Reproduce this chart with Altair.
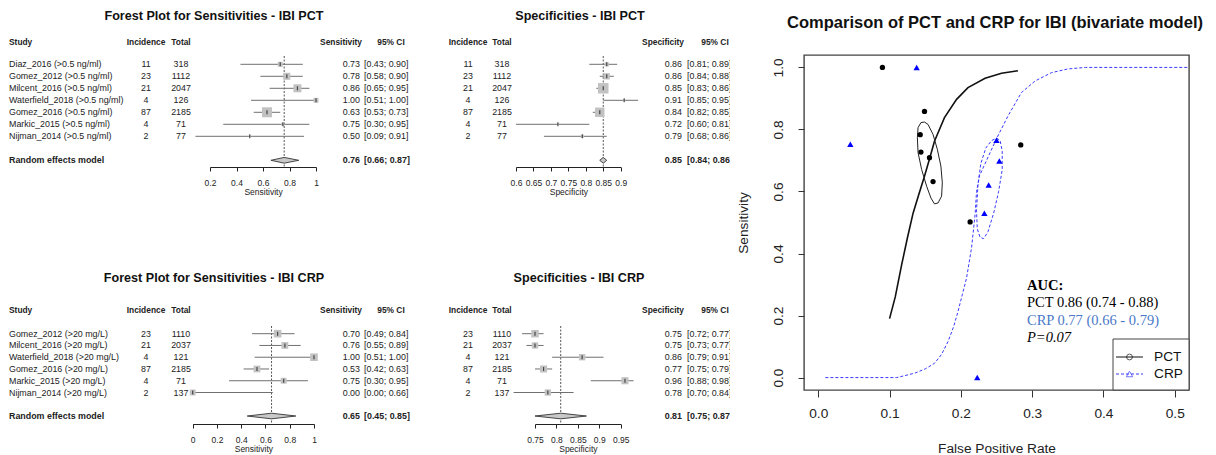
import altair as alt
import pandas as pd

FONT = "Liberation Sans"
SERIF = "Liberation Serif"

# ---------------- Forest plot data: PCT ----------------
pct_studies = ["Diaz_2016 (>0.5 ng/ml)", "Gomez_2012 (>0.5 ng/ml)", "Milcent_2016 (>0.5 ng/ml)",
               "Waterfield_2018 (>0.5 ng/ml)", "Gomez_2016 (>0.5 ng/ml)", "Markic_2015 (>0.5 ng/ml)",
               "Nijman_2014 (>0.5 ng/ml)"]
pct_incidence = [11, 23, 21, 4, 87, 4, 2]
pct_total = [318, 1112, 2047, 126, 2185, 71, 77]
pct_sens = [0.73, 0.78, 0.86, 1.00, 0.63, 0.75, 0.50]
pct_sens_lo = [0.43, 0.58, 0.65, 0.51, 0.53, 0.30, 0.09]
pct_sens_hi = [0.90, 0.90, 0.95, 1.00, 0.73, 0.95, 0.91]
pct_sens_weight = [9.1, 17.8, 23.2, 9.1, 36.2, 3.3, 1.4]
pct_sens_random = [0.76, 0.66, 0.87]
pct_spec = [0.86, 0.86, 0.85, 0.91, 0.84, 0.72, 0.79]
pct_spec_lo = [0.81, 0.84, 0.83, 0.85, 0.82, 0.60, 0.68]
pct_spec_hi = [0.89, 0.88, 0.86, 0.95, 0.85, 0.81, 0.86]
pct_spec_weight = [6.4, 14.4, 40.0, 1.6, 32.4, 1.6, 3.6]
pct_spec_random = [0.85, 0.84, 0.86]

# ---------------- Forest plot data: CRP ----------------
crp_studies = ["Gomez_2012 (>20 mg/L)", "Milcent_2016 (>20 mg/L)", "Waterfield_2018 (>20 mg/L)",
               "Gomez_2016 (>20 mg/L)", "Markic_2015 (>20 mg/L)", "Nijman_2014 (>20 mg/L)"]
crp_incidence = [23, 21, 4, 87, 4, 2]
crp_total = [1110, 2037, 121, 2185, 71, 137]
crp_sens = [0.70, 0.76, 1.00, 0.53, 0.75, 0.00]
crp_sens_lo = [0.49, 0.55, 0.51, 0.42, 0.30, 0.00]
crp_sens_hi = [0.84, 0.89, 1.00, 0.63, 0.95, 0.66]
crp_sens_weight = [20.9, 16.5, 20.9, 16.5, 12.6, 12.6]
crp_sens_random = [0.65, 0.45, 0.85]
crp_spec = [0.75, 0.75, 0.86, 0.77, 0.96, 0.78]
crp_spec_lo = [0.72, 0.73, 0.79, 0.75, 0.88, 0.70]
crp_spec_hi = [0.77, 0.77, 0.91, 0.79, 0.98, 0.84]
crp_spec_weight = [20.3, 14.4, 14.4, 18.2, 18.2, 14.4]
crp_spec_random = [0.81, 0.75, 0.87]

# ---------------- SROC (bivariate model) data ----------------
pct_fpr = [0.090, 0.149, 0.143, 0.144, 0.156, 0.161, 0.284, 0.213]
pct_tpr = [1.000, 0.858, 0.783, 0.727, 0.709, 0.632, 0.750, 0.502]
crp_fpr = [0.138, 0.045, 0.250, 0.254, 0.239, 0.233, 0.223]
crp_tpr = [1.000, 0.752, 0.765, 0.698, 0.621, 0.530, 0.000]

pct_curve_fpr = [0.100, 0.108, 0.117, 0.125, 0.133, 0.141, 0.149, 0.156, 0.163, 0.177, 0.194, 0.210, 0.234, 0.257, 0.280]
pct_curve_tpr = [0.190, 0.260, 0.364, 0.450, 0.530, 0.590, 0.649, 0.705, 0.762, 0.838, 0.897, 0.935, 0.965, 0.981, 0.989]
crp_curve_fpr = [0.010, 0.110, 0.135, 0.150, 0.163, 0.173, 0.182, 0.190, 0.196, 0.202, 0.208, 0.215, 0.220, 0.222,
                 0.226, 0.236, 0.250, 0.266, 0.285, 0.304, 0.327, 0.350, 0.375, 0.520]
crp_curve_tpr = [0.000, 0.000, 0.014, 0.028, 0.046, 0.075, 0.116, 0.165, 0.213, 0.267, 0.321, 0.418, 0.526, 0.600,
                 0.650, 0.700, 0.770, 0.843, 0.919, 0.956, 0.983, 0.995, 1.000, 1.000]

pct_region_fpr = [0.149, 0.154, 0.161, 0.167, 0.172, 0.174, 0.173, 0.168, 0.163, 0.158, 0.152, 0.145, 0.140, 0.139, 0.140, 0.144, 0.149]
pct_region_tpr = [0.824, 0.816, 0.784, 0.736, 0.682, 0.628, 0.585, 0.563, 0.560, 0.579, 0.617, 0.671, 0.725, 0.773, 0.806, 0.822, 0.824]
crp_region_fpr = [0.250, 0.255, 0.258, 0.258, 0.253, 0.246, 0.238, 0.232, 0.227, 0.223, 0.222, 0.224, 0.228, 0.235, 0.243, 0.250]
crp_region_tpr = [0.772, 0.765, 0.730, 0.670, 0.600, 0.530, 0.470, 0.448, 0.452, 0.480, 0.540, 0.620, 0.690, 0.740, 0.764, 0.772]

auc_lines = ["PCT  0.86 (0.74 - 0.88)", "CRP 0.77 (0.66 - 0.79)", "P=0.07"]
legend_labels = ["PCT", "CRP"]

ONE = pd.DataFrame({"a": [0]})
BODY = 8.9


def txt(label, x, y, size=BODY, weight="normal", align="left", color="#222", font=FONT, style="normal", clip=False):
    return alt.Chart(pd.DataFrame({"t": [label]})).mark_text(
        align=align, baseline="middle", fontSize=size, fontWeight=weight, font=font,
        color=color, fontStyle=style, clip=clip
    ).encode(text="t:N", x=alt.value(x), y=alt.value(y))


def spacer(x, y, x2, y2):
    # invisible element that fixes the layout bounds of a panel
    return alt.Chart(ONE).mark_rule(opacity=0, strokeOpacity=0).encode(
        x=alt.value(x), x2=alt.value(x2), y=alt.value(y), y2=alt.value(y2))


def forest(studies, inc, tot, est, lo, hi, w, rnd, area_per_pct, width, height, row_top, row_step,
           xdom, xrange, xticks, xfmt, xtitle, measure, title, title_x, cols, title_y, header_y,
           dash_top, clip, show_study, bottom_bound):
    n = len(est)
    df = pd.DataFrame({"row": list(range(1, n + 1)), "study": studies if studies else [""] * n,
                       "inc": inc, "tot": tot, "est": est, "lo": lo, "hi": hi, "w": w})
    re_row = n + 2
    re_df = pd.DataFrame({"row": [re_row], "est": [rnd[0]], "lo": [rnd[1]], "hi": [rnd[2]],
                          "label": ["Random effects model"]})
    dh = 0.24
    dia = pd.DataFrame({"x": [rnd[1], rnd[0], rnd[2]],
                        "yt": [re_row, re_row - dh, re_row],
                        "yb": [re_row, re_row + dh, re_row]})
    ydom = [1 - row_top / row_step, 1 + (height - row_top) / row_step]
    ysc = alt.Scale(domain=ydom, reverse=True, nice=False, zero=False)
    xsc = alt.Scale(domain=xdom, range=xrange, nice=False, zero=False)
    xaxis = alt.Axis(values=xticks, format=xfmt, grid=False, domain=True, domainColor="#222",
                     domainWidth=1, tickColor="#222", tickSize=4, tickWidth=1, labelFontSize=8.5,
                     labelFont=FONT, labelColor="#222", labelPadding=7, labelFlush=False,
                     labelOverlap=False, titleFont=FONT, titleFontSize=8.5, titleFontWeight="normal",
                     titleColor="#222", titlePadding=1)

    def X(f):
        return alt.X(f, type="quantitative", scale=xsc, axis=xaxis, title=xtitle)

    def Y(f="row"):
        return alt.Y(f, type="quantitative", scale=ysc, axis=None)

    base = alt.Chart(df)
    layers = []
    if bottom_bound:
        layers.append(spacer(0, 0, 0, bottom_bound))
    layers.append(alt.Chart(re_df).mark_rule(strokeDash=[2, 1.5], color="#555", strokeWidth=1).encode(
        x=X("est"), y=alt.value(dash_top), y2=alt.value(height)))
    layers.append(base.mark_rule(color="#707070", strokeWidth=1).encode(x=X("lo"), x2="hi:Q", y=Y()))
    layers.append(base.mark_square(color="#c2c2c2", opacity=1).encode(
        x=X("est"), y=Y(),
        size=alt.Size("w:Q", scale=alt.Scale(domain=[0, 100], range=[0, 100 * area_per_pct]), legend=None)))
    layers.append(base.mark_tick(orient="vertical", size=4, thickness=1.2, color="#111").encode(x=X("est"), y=Y()))
    layers.append(alt.Chart(dia).mark_area(orient="vertical", color="#c8c8c8", stroke="#333", strokeWidth=0.9).encode(
        x=X("x"), y=Y("yt"), y2="yb:Q"))

    tstyle = dict(baseline="middle", fontSize=BODY, font=FONT, color="#222")
    if show_study:
        layers.append(base.mark_text(align="left", **tstyle).encode(x=alt.value(cols["study"]), y=Y(), text="study:N"))
    layers.append(base.mark_text(align="center", **tstyle).encode(x=alt.value(cols["inc"]), y=Y(), text="inc:Q"))
    layers.append(base.mark_text(align="center", **tstyle).encode(x=alt.value(cols["tot"]), y=Y(), text="tot:Q"))
    layers.append(base.mark_text(align="right", clip=clip, **tstyle).encode(
        x=alt.value(cols["est"]), y=Y(), text=alt.Text("est:Q", format=".2f")))
    ci_expr = "'[' + format(datum.lo, '.2f') + '; ' + format(datum.hi, '.2f') + ']'"
    layers.append(base.transform_calculate(ci=ci_expr).mark_text(align="left", clip=clip, **tstyle).encode(
        x=alt.value(cols["ci"]), y=Y(), text="ci:N"))

    bstyle = dict(baseline="middle", fontSize=BODY, font=FONT, color="#222", fontWeight="bold")
    re_base = alt.Chart(re_df)
    if show_study:
        layers.append(re_base.mark_text(align="left", **bstyle).encode(
            x=alt.value(cols["study"]), y=Y(), text="label:N"))
    layers.append(re_base.mark_text(align="right", clip=clip, **bstyle).encode(
        x=alt.value(cols["est"]), y=Y(), text=alt.Text("est:Q", format=".2f")))
    layers.append(re_base.transform_calculate(ci=ci_expr).mark_text(align="left", clip=clip, **bstyle).encode(
        x=alt.value(cols["ci"]), y=Y(), text="ci:N"))

    if show_study:
        layers.append(txt("Study", cols["study"], header_y, size=8.4, weight="bold"))
    layers.append(txt("Incidence", cols["inc"], header_y, size=8.4, weight="bold", align="center"))
    layers.append(txt("Total", cols["tot"], header_y, size=8.4, weight="bold", align="center"))
    layers.append(txt(measure, cols["hdr_est"], header_y, size=8.4, weight="bold", align="center"))
    layers.append(txt("95% CI", cols["hdr_ci"], header_y, size=8.4, weight="bold", align="center"))
    layers.append(txt(title, title_x, title_y, size=12.6, weight="bold", align="center", color="#111"))
    return alt.layer(*layers).properties(width=width, height=height)


# panel geometry (pixels inside each panel)
sens_cols = {"study": 1, "inc": 138, "tot": 173, "est": 352, "ci": 356, "hdr_est": 333, "hdr_ci": 383}
spec_cols = {"inc": 50, "tot": 84, "est": 264, "ci": 269, "hdr_est": 245, "hdr_ci": 297}
SENS_W, SPEC_W = 410, 312
TOP_H, BOT_H = 112, 219

sens_pct = forest(pct_studies, pct_incidence, pct_total, pct_sens, pct_sens_lo, pct_sens_hi, pct_sens_weight,
                  pct_sens_random, 2.76, SENS_W, TOP_H, 9.3, 12.0, [0.2, 1.0], [202, 308],
                  [0.2, 0.4, 0.6, 0.8, 1.0], ".1~f", "Sensitivity", "Sensitivity",
                  "Forest Plot for Sensitivities - IBI PCT", 206, sens_cols, -39, -13, 1, False, True, 150)
spec_pct = forest(None, pct_incidence, pct_total, pct_spec, pct_spec_lo, pct_spec_hi, pct_spec_weight,
                  pct_spec_random, 2.5, SPEC_W, TOP_H, 9.3, 12.0, [0.6, 0.9], [98, 202.7],
                  [0.6, 0.65, 0.7, 0.75, 0.8, 0.85, 0.9], ".2~f", "Specificity", "Specificity",
                  "Specificities - IBI PCT", 162, spec_cols, -39, -13, 1, True, False, 150)
sens_crp = forest(crp_studies, crp_incidence, crp_total, crp_sens, crp_sens_lo, crp_sens_hi, crp_sens_weight,
                  crp_sens_random, 3.88, SENS_W, BOT_H, 128.7, 11.76, [0.0, 1.0], [184.7, 306],
                  [0, 0.2, 0.4, 0.6, 0.8, 1.0], ".1~f", "Sensitivity", "Sensitivity",
                  "Forest Plot for Sensitivities - IBI CRP", 206, sens_cols, 73, 105, 121, False, True, 0)
spec_crp = forest(None, crp_incidence, crp_total, crp_spec, crp_spec_lo, crp_spec_hi, crp_spec_weight,
                  crp_spec_random, 4.44, SPEC_W, BOT_H, 128.7, 11.76, [0.75, 0.95], [117, 202.7],
                  [0.75, 0.8, 0.85, 0.9, 0.95], ".2~f", "Specificity", "Specificity",
                  "Specificities - IBI CRP", 161, spec_cols, 73, 105, 121, True, False, 0)

# ---------------- ROC panel ----------------
roc_xsc = alt.Scale(domain=[-0.02, 0.52], nice=False, zero=False)
roc_ysc = alt.Scale(domain=[-0.04, 1.04], nice=False, zero=False)
ax_common = dict(grid=False, domain=False, tickColor="#333", tickWidth=1, labelFont=FONT, labelFontSize=13.7,
                 labelColor="#222", labelFlush=False, labelOverlap=False, titleFont=FONT, titleFontSize=13.7,
                 titleFontWeight="normal", titleColor="#222", format=".1f")
roc_xaxis = alt.Axis(values=[0, 0.1, 0.2, 0.3, 0.4, 0.5], tickSize=7, labelPadding=9, titlePadding=22, **ax_common)
roc_yaxis = alt.Axis(values=[0, 0.2, 0.4, 0.6, 0.8, 1.0], tickSize=6, labelPadding=13, labelAngle=270,
                     labelAlign="center", labelBaseline="bottom", titlePadding=21, **ax_common)


def RX(f):
    return alt.X(f, type="quantitative", scale=roc_xsc, axis=roc_xaxis, title="False Positive Rate")


def RY(f):
    return alt.Y(f, type="quantitative", scale=roc_ysc, axis=roc_yaxis, title="Sensitivity")


BLUE = "#0000ff"
pct_pts = pd.DataFrame({"fpr": pct_fpr, "tpr": pct_tpr})
crp_pts = pd.DataFrame({"fpr": crp_fpr, "tpr": crp_tpr})
pct_cur = pd.DataFrame({"fpr": pct_curve_fpr, "tpr": pct_curve_tpr})
crp_cur = pd.DataFrame({"fpr": crp_curve_fpr, "tpr": crp_curve_tpr})
pct_reg = pd.DataFrame({"fpr": pct_region_fpr, "tpr": pct_region_tpr, "i": range(len(pct_region_fpr))})
crp_reg = pd.DataFrame({"fpr": crp_region_fpr, "tpr": crp_region_tpr, "i": range(len(crp_region_fpr))})

roc_layers = [
    spacer(-73, -46, -73, 0),
    alt.Chart(crp_cur).mark_line(color="#3a3aff", strokeWidth=1, strokeDash=[3, 2]).encode(x=RX("fpr"), y=RY("tpr")),
    alt.Chart(crp_reg).mark_line(color="#3a3aff", strokeWidth=1, strokeDash=[3, 2]).encode(
        x=RX("fpr"), y=RY("tpr"), order="i:Q"),
    alt.Chart(pct_cur).mark_line(color="#111", strokeWidth=1.6).encode(x=RX("fpr"), y=RY("tpr")),
    alt.Chart(pct_reg).mark_line(color="#222", strokeWidth=1).encode(x=RX("fpr"), y=RY("tpr"), order="i:Q"),
    alt.Chart(pct_pts).mark_point(shape="circle", filled=True, color="#000", size=28, opacity=1).encode(
        x=RX("fpr"), y=RY("tpr")),
    alt.Chart(crp_pts).mark_point(shape="triangle-up", filled=True, color=BLUE, size=40, opacity=1).encode(
        x=RX("fpr"), y=RY("tpr")),
    txt("AUC:", 223, 231, size=14.5, weight="bold", font=SERIF, color="#000"),
    txt(auc_lines[0], 223, 248, size=14.5, font=SERIF, color="#000"),
    txt(auc_lines[1], 223, 266, size=14.5, font=SERIF, color="#4a78c8"),
    txt(auc_lines[2], 223, 283, size=14.5, font=SERIF, color="#000", style="italic"),
    alt.Chart(ONE).mark_rect(fill="white", stroke="#444", strokeWidth=1).encode(
        x=alt.value(309), x2=alt.value(385), y=alt.value(284), y2=alt.value(335)),
    alt.Chart(ONE).mark_rule(color="#111", strokeWidth=1).encode(x=alt.value(312), x2=alt.value(339), y=alt.value(302)),
    alt.Chart(ONE).mark_point(shape="circle", filled=False, color="#111", size=34, strokeWidth=1).encode(
        x=alt.value(325.5), y=alt.value(302)),
    alt.Chart(ONE).mark_rule(color="#3a3aff", strokeWidth=1, strokeDash=[3, 2]).encode(
        x=alt.value(312), x2=alt.value(339), y=alt.value(319)),
    alt.Chart(ONE).mark_point(shape="triangle-up", filled=False, color="#3a3aff", size=40, strokeWidth=1).encode(
        x=alt.value(325.5), y=alt.value(319)),
    txt(legend_labels[0], 350, 302, size=13.7, color="#111"),
    txt(legend_labels[1], 350, 319, size=13.7, color="#111"),
    txt("Comparison of PCT and CRP for IBI (bivariate model)", 191, -32, size=16.5, weight="bold",
        align="center", color="#111"),
]
roc = alt.layer(*roc_layers).properties(
    width=385, height=335, view=alt.ViewBackground(stroke="#444", strokeWidth=1.4))

top_row = alt.hconcat(sens_pct, spec_pct, spacing=0)
bot_row = alt.hconcat(sens_crp, spec_crp, spacing=0)
left = alt.vconcat(top_row, bot_row, spacing=0)

chart = alt.hconcat(left, roc, spacing=0).properties(padding=0).configure_view(stroke=None)

chart.save("out.html", embed_options={"renderer": "svg", "actions": False})
